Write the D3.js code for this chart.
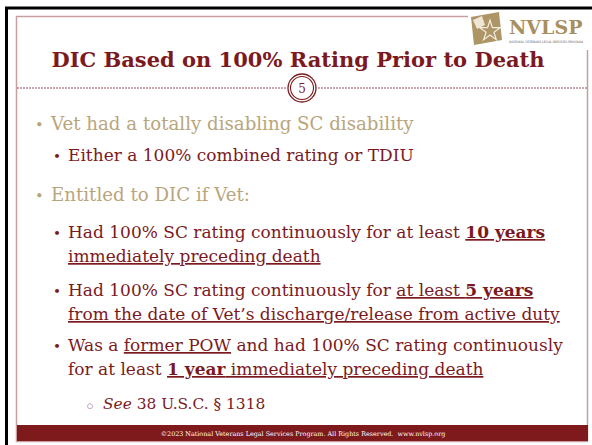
<!DOCTYPE html>
<html>
<head>
<meta charset="utf-8">
<script src="https://cdn.jsdelivr.net/npm/d3@7"></script>
<style>
  html, body { margin: 0; padding: 0; background: #fff; }
  svg { display: block; }
</style>
</head>
<body>
<div id="slide"></div>
<script>
// slide content
const title = "DIC Based on 100% Rating Prior to Death"
const slideNumber = "5"
const footer = "©2023 National Veterans Legal Services Program. All Rights Reserved.  www.nvlsp.org"
const logoName = "NVLSP"
const logoTag = "NATIONAL VETERANS LEGAL SERVICES PROGRAM"

// each bullet: outline level + lines, each line is a list of [text, emphasis]
const bulletLevels = [1, 2, 1, 2, 2, 2, 3]
const bulletLines = [
  [[["Vet had a totally disabling SC disability", ""]]],
  [[["Either a 100% combined rating or TDIU", ""]]],
  [[["Entitled to DIC if Vet:", ""]]],
  [
    [["Had 100% SC rating continuously for at least ", ""], ["10 years", "bu"]],
    [["immediately preceding death", "u"]]
  ],
  [
    [["Had 100% SC rating continuously for ", ""], ["at least ", "u"], ["5 years", "bu"]],
    [["from the date of Vet’s discharge/release from active duty", "u"]]
  ],
  [
    [["Was a ", ""], ["former POW", "u"], [" and had 100% SC rating continuously", ""]],
    [["for at least ", ""], ["1 year", "bu"], [" immediately preceding death", "u"]]
  ],
  [[["See", "i"], [" 38 U.S.C. § 1318", ""]]]
]

const width = 592, height = 445
const red = "#7b1a1e", tan = "#b9a57c", border = "#c99ea2"
const font = "DejaVu Serif"

const svg = d3.select("#slide").append("svg")
    .attr("width", width)
    .attr("height", height)
    .style("font-family", font)

// page frame
svg.append("rect").attr("x", 0).attr("y", 0).attr("width", width).attr("height", height).attr("fill", "#fff")
svg.append("line").attr("x1", 6.5).attr("x2", 6.5).attr("y1", 7).attr("y2", height).attr("stroke", "#000").attr("stroke-width", 3)
svg.append("line").attr("x1", 5).attr("x2", width).attr("y1", 8).attr("y2", 8).attr("stroke", "#000").attr("stroke-width", 3)
svg.append("rect")
    .attr("x", 16.5).attr("y", 16.5)
    .attr("width", 571).attr("height", 425)
    .attr("fill", "none")
    .attr("stroke", border)
    .attr("stroke-width", 1.5)

// footer bar
svg.append("rect").attr("x", 17).attr("y", 425).attr("width", 571).attr("height", 16).attr("fill", "#7e191c")
svg.append("text")
    .attr("x", 303).attr("y", 435.5)
    .attr("text-anchor", "middle")
    .attr("font-size", 6.4)
    .attr("fill", "#fff")
    .attr("xml:space", "preserve")
    .text(footer)

// logo
const logo = svg.append("g").attr("transform", "translate(468,10)")
logo.append("rect").attr("x", 0).attr("y", 0).attr("width", 121).attr("height", 40).attr("fill", "#fff")
logo.append("path")
    .attr("d", "M3,7 L31,2 L34,30 L6,35 Z")
    .attr("fill", "#ad9566")
logo.append("path")
    .attr("d", d3.symbol(d3.symbolStar, 130)())
    .attr("transform", "translate(22,21)")
    .attr("fill", "none")
    .attr("stroke", "#f3eee2")
    .attr("stroke-width", 1.2)
logo.append("path")
    .attr("d", "M5,10 L14,6 L17,15 L9,19 Z")
    .attr("fill", "#eee6d4")
logo.append("text")
    .attr("x", 41).attr("y", 24)
    .attr("font-weight", "bold")
    .attr("font-size", 19)
    .attr("fill", "#a88f5e")
    .text(logoName)
logo.append("text")
    .attr("x", 41).attr("y", 33)
    .attr("font-size", 3)
    .attr("fill", "#555")
    .attr("textLength", 74)
    .attr("lengthAdjust", "spacingAndGlyphs")
    .text(logoTag)

// title
svg.append("text")
    .attr("x", 298).attr("y", 67)
    .attr("text-anchor", "middle")
    .attr("font-weight", "bold")
    .attr("font-size", 21)
    .attr("fill", red)
    .text(title)

// dashed rule with slide number
const ruleY = 88, cx = 302
svg.selectAll("line.rule")
    .data([[17, cx - 16], [cx + 16, 587]])
    .enter().append("line")
    .attr("class", "rule")
    .attr("x1", d => d[0]).attr("x2", d => d[1])
    .attr("y1", ruleY).attr("y2", ruleY)
    .attr("stroke", "#9d4d52")
    .attr("stroke-width", 1)
    .attr("stroke-dasharray", "2,1")
svg.append("circle").attr("cx", cx).attr("cy", ruleY).attr("r", 14).attr("fill", "#fff").attr("stroke", red).attr("stroke-width", 1.3)
svg.append("circle").attr("cx", cx).attr("cy", ruleY).attr("r", 11.5).attr("fill", "none").attr("stroke", red).attr("stroke-width", 1.1)
svg.append("text")
    .attr("x", cx).attr("y", ruleY + 4.5)
    .attr("text-anchor", "middle")
    .attr("font-size", 12)
    .attr("fill", red)
    .text(slideNumber)

// bullet layout per level
const levelStyle = {
  1: { bulletX: 35, textX: 51, size: 18.2, color: tan, bullet: "•", bulletScale: 0.8, dy: 0 },
  2: { bulletX: 53, textX: 68, size: 17, color: red, bullet: "•", bulletScale: 0.8, dy: 0 },
  3: { bulletX: 87, textX: 103, size: 15.4, color: red, bullet: "○", bulletScale: 0.45, dy: -1 }
}
// first baseline of each bullet, line height inside a bullet
const bulletTops = [130, 161, 201, 238, 296, 351, 409]
const lineHeight = 24

const rows = svg.append("g").selectAll("g.bullet")
    .data(bulletLines.map((lines, i) => ({ lines, level: bulletLevels[i], y: bulletTops[i] })))
    .enter().append("g")
    .attr("class", "bullet")

rows.append("text")
    .attr("x", d => levelStyle[d.level].bulletX)
    .attr("y", d => d.y + levelStyle[d.level].dy)
    .attr("font-size", d => levelStyle[d.level].size * levelStyle[d.level].bulletScale)
    .attr("fill", d => levelStyle[d.level].color)
    .text(d => levelStyle[d.level].bullet)

rows.each(function(d) {
  const st = levelStyle[d.level]
  d3.select(this).selectAll("text.line")
      .data(d.lines)
      .enter().append("text")
      .attr("class", "line")
      .attr("x", st.textX)
      .attr("y", (l, j) => d.y + j * lineHeight)
      .attr("font-size", st.size)
      .attr("fill", st.color)
      .attr("xml:space", "preserve")
      .selectAll("tspan")
      .data(l => l)
      .enter().append("tspan")
      .attr("font-weight", s => s[1].includes("b") ? "bold" : null)
      .attr("font-style", s => s[1].includes("i") ? "italic" : null)
      .attr("text-decoration", s => s[1].includes("u") ? "underline" : null)
      .text(s => s[0])
})
</script>
</body>
</html>
